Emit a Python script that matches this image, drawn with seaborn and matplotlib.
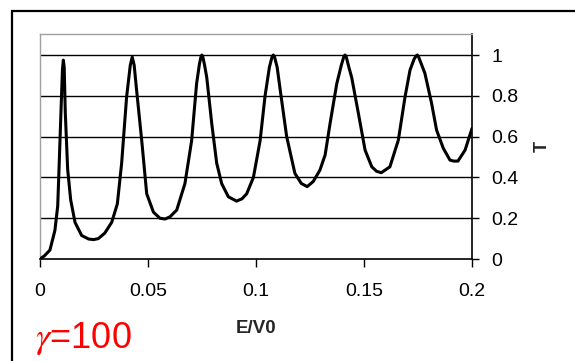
import numpy as np
import pandas as pd
import seaborn as sns
import matplotlib.pyplot as plt
from matplotlib.patches import Rectangle

# values (T vs E/V0, gamma = 100)
e_v0 = [0.0, 0.002, 0.0046, 0.0069, 0.0082, 0.0089, 0.0097, 0.0104, 0.0108, 0.0112,
        0.0117, 0.0128, 0.0142, 0.0162, 0.0193, 0.0225, 0.0248, 0.0270, 0.0300, 0.0332,
        0.0358, 0.0378, 0.0401, 0.0418, 0.0427, 0.0436, 0.0447, 0.0471, 0.0494, 0.0525,
        0.0555, 0.0579, 0.0602, 0.0633, 0.0671, 0.0702, 0.0725, 0.0738, 0.0745, 0.0749,
        0.0754, 0.0762, 0.0772, 0.0795, 0.0818, 0.0841, 0.0872, 0.0910, 0.0935, 0.0957,
        0.0988, 0.1019, 0.1042, 0.1062, 0.1074, 0.1080, 0.1086, 0.1098, 0.1110, 0.1142,
        0.1180, 0.1210, 0.1237, 0.1265, 0.1296, 0.1320, 0.1343, 0.1374, 0.1395, 0.1406,
        0.1412, 0.1418, 0.1430, 0.1443, 0.1474, 0.1505, 0.1536, 0.1558, 0.1580, 0.1620,
        0.1659, 0.1690, 0.1713, 0.1732, 0.1741, 0.1747, 0.1753, 0.1764, 0.1782, 0.1813,
        0.1836, 0.1867, 0.1898, 0.1915, 0.1935, 0.1968, 0.2000]
trans = [0.0, 0.015, 0.044, 0.14, 0.26, 0.47, 0.72, 0.93, 0.975, 0.94,
         0.72, 0.44, 0.29, 0.18, 0.115, 0.098, 0.095, 0.10, 0.127, 0.18,
         0.27, 0.47, 0.795, 0.95, 0.99, 0.95, 0.83, 0.58, 0.32, 0.23,
         0.20, 0.196, 0.207, 0.24, 0.37, 0.58, 0.86, 0.955, 0.99, 1.0,
         0.99, 0.95, 0.89, 0.665, 0.47, 0.37, 0.305, 0.284, 0.295, 0.32,
         0.40, 0.58, 0.80, 0.94, 0.99, 1.0, 0.99, 0.94, 0.845, 0.60,
         0.42, 0.37, 0.355, 0.38, 0.436, 0.51, 0.665, 0.86, 0.95, 0.99,
         1.0, 0.99, 0.94, 0.89, 0.714, 0.534, 0.452, 0.43, 0.423, 0.452,
         0.583, 0.795, 0.926, 0.98, 0.995, 1.0, 0.99, 0.96, 0.91, 0.763,
         0.632, 0.543, 0.485, 0.48, 0.48, 0.534, 0.64]

x_ticks = [0, 0.05, 0.1, 0.15, 0.2]
x_labels = ["0", "0.05", "0.1", "0.15", "0.2"]
y_ticks = [0, 0.2, 0.4, 0.6, 0.8, 1]
y_labels = ["0", "0.2", "0.4", "0.6", "0.8", "1"]

df = pd.DataFrame({"E/V0": e_v0, "T": trans})

sns.set_style("white")
plt.rcParams["font.family"] = ["Liberation Sans", "DejaVu Sans"]
plt.rcParams["mathtext.fontset"] = "stix"

fig = plt.figure(figsize=(5.75, 3.61), dpi=100)
ax = fig.add_axes([40 / 575, 102 / 361, 432 / 575, 225 / 361])

# outer frame (only left and top edges visible)
fig.patches.append(Rectangle((12 / 575, -0.2), 1.2, 1.2 - 11 / 361,
                             transform=fig.transFigure, fill=False,
                             edgecolor="black", lw=1.6))

for yv in y_ticks[1:]:
    ax.axhline(yv, color="black", lw=1.0, zorder=1)

sns.lineplot(data=df, x="E/V0", y="T", color="black", lw=2.2, ax=ax, zorder=3)

ax.set_xlim(0, 0.2)
ax.set_ylim(0, 1.103)
ax.set_xticks(x_ticks)
ax.set_xticklabels(x_labels)
ax.set_yticks(y_ticks)
ax.set_yticklabels(y_labels)
ax.yaxis.tick_right()
ax.yaxis.set_label_position("right")

for side in ["left", "top"]:
    ax.spines[side].set_color("#a0a0a0")
    ax.spines[side].set_linewidth(1.0)
for side in ["right", "bottom"]:
    ax.spines[side].set_color("black")
    ax.spines[side].set_linewidth(1.2)

ax.tick_params(axis="x", direction="out", length=5.5, width=1.0, pad=12,
               labelsize=14, bottom=True, colors="black")
ax.tick_params(axis="y", direction="out", length=5, width=1.0, pad=9,
               labelsize=14, right=True, left=False, colors="black")

ax.set_xlabel("E/V0", fontsize=13.5, fontweight="bold", labelpad=14)
ax.set_ylabel("T", fontsize=13, fontweight="bold", labelpad=11, rotation=90)

fig.text(35 / 575, 1 - 348 / 361, r"$\gamma$=100", color="red", fontsize=26,
         ha="left", va="baseline")

fig.savefig("out.png", dpi=100)
